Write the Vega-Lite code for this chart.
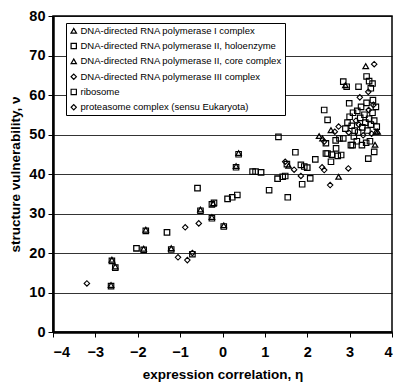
{
  "$schema": "https://vega.github.io/schema/vega-lite/v6.json",
  "width": 339,
  "height": 316,
  "autosize": "none",
  "padding": {"left": 53, "top": 16, "right": 3, "bottom": 53},
  "background": "white",
  "config": {
    "font": "Liberation Sans",
    "view": {"stroke": "black", "strokeWidth": 1.5},
    "axis": {
      "labelFont": "Liberation Sans",
      "labelFontWeight": "bold",
      "labelFontSize": 14.5,
      "labelColor": "black",
      "titleFont": "Liberation Sans",
      "titleFontWeight": "bold",
      "titleFontSize": 13.5,
      "titleColor": "black",
      "domainColor": "black",
      "domainWidth": 2.5,
      "tickColor": "black",
      "tickWidth": 1,
      "tickSize": 5
    }
  },
  "data": {
    "values": [
      {"eta": -3.2, "nu": 12.3, "complex": "proteasome complex (sensu Eukaryota)"},
      {"eta": -2.63, "nu": 11.6, "complex": "ribosome"},
      {"eta": -2.63, "nu": 11.9, "complex": "DNA-directed RNA polymerase II, core complex"},
      {"eta": -2.61, "nu": 18.0, "complex": "ribosome"},
      {"eta": -2.61, "nu": 18.3, "complex": "DNA-directed RNA polymerase I complex"},
      {"eta": -2.53, "nu": 16.3, "complex": "ribosome"},
      {"eta": -2.53, "nu": 16.6, "complex": "DNA-directed RNA polymerase II, core complex"},
      {"eta": -2.03, "nu": 21.2, "complex": "DNA-directed RNA polymerase II, holoenzyme"},
      {"eta": -1.86, "nu": 20.8, "complex": "ribosome"},
      {"eta": -1.86, "nu": 21.1, "complex": "DNA-directed RNA polymerase I complex"},
      {"eta": -1.81, "nu": 25.6, "complex": "ribosome"},
      {"eta": -1.81, "nu": 25.9, "complex": "DNA-directed RNA polymerase II, core complex"},
      {"eta": -1.31, "nu": 25.2, "complex": "DNA-directed RNA polymerase II, holoenzyme"},
      {"eta": -1.21, "nu": 20.9, "complex": "ribosome"},
      {"eta": -1.21, "nu": 21.2, "complex": "DNA-directed RNA polymerase I complex"},
      {"eta": -1.05, "nu": 18.9, "complex": "proteasome complex (sensu Eukaryota)"},
      {"eta": -0.88, "nu": 26.5, "complex": "proteasome complex (sensu Eukaryota)"},
      {"eta": -0.83, "nu": 18.2, "complex": "proteasome complex (sensu Eukaryota)"},
      {"eta": -0.71, "nu": 19.7, "complex": "ribosome"},
      {"eta": -0.71, "nu": 20.0, "complex": "DNA-directed RNA polymerase III complex"},
      {"eta": -0.56, "nu": 27.5, "complex": "proteasome complex (sensu Eukaryota)"},
      {"eta": -0.52, "nu": 30.7, "complex": "ribosome"},
      {"eta": -0.52, "nu": 31.0, "complex": "DNA-directed RNA polymerase I complex"},
      {"eta": -0.59, "nu": 36.4, "complex": "DNA-directed RNA polymerase II, holoenzyme"},
      {"eta": -0.25, "nu": 32.3, "complex": "ribosome"},
      {"eta": -0.2, "nu": 32.7, "complex": "ribosome"},
      {"eta": -0.22, "nu": 32.5, "complex": "DNA-directed RNA polymerase I complex"},
      {"eta": -0.25, "nu": 28.8, "complex": "ribosome"},
      {"eta": -0.25, "nu": 29.1, "complex": "DNA-directed RNA polymerase II, core complex"},
      {"eta": 0.03, "nu": 26.7, "complex": "ribosome"},
      {"eta": 0.03, "nu": 27.0, "complex": "DNA-directed RNA polymerase I complex"},
      {"eta": 0.12, "nu": 33.7, "complex": "DNA-directed RNA polymerase II, holoenzyme"},
      {"eta": 0.23, "nu": 34.1, "complex": "ribosome"},
      {"eta": 0.35, "nu": 34.7, "complex": "ribosome"},
      {"eta": 0.32, "nu": 41.7, "complex": "ribosome"},
      {"eta": 0.32, "nu": 42.0, "complex": "DNA-directed RNA polymerase I complex"},
      {"eta": 0.38, "nu": 45.0, "complex": "ribosome"},
      {"eta": 0.38, "nu": 45.3, "complex": "DNA-directed RNA polymerase II, core complex"},
      {"eta": 0.71, "nu": 40.6, "complex": "ribosome"},
      {"eta": 0.78, "nu": 40.6, "complex": "ribosome"},
      {"eta": 0.91, "nu": 40.4, "complex": "DNA-directed RNA polymerase II, holoenzyme"},
      {"eta": 1.1, "nu": 35.9, "complex": "ribosome"},
      {"eta": 1.32, "nu": 49.4, "complex": "ribosome"},
      {"eta": 1.3, "nu": 38.8, "complex": "DNA-directed RNA polymerase II, holoenzyme"},
      {"eta": 1.42, "nu": 39.3, "complex": "ribosome"},
      {"eta": 1.48, "nu": 39.5, "complex": "ribosome"},
      {"eta": 1.54, "nu": 34.1, "complex": "ribosome"},
      {"eta": 1.48, "nu": 43.1, "complex": "proteasome complex (sensu Eukaryota)"},
      {"eta": 1.52, "nu": 42.5, "complex": "ribosome"},
      {"eta": 1.56, "nu": 42.1, "complex": "DNA-directed RNA polymerase I complex"},
      {"eta": 1.69, "nu": 41.1, "complex": "proteasome complex (sensu Eukaryota)"},
      {"eta": 1.72, "nu": 45.5, "complex": "ribosome"},
      {"eta": 1.85, "nu": 42.3, "complex": "ribosome"},
      {"eta": 1.93, "nu": 41.9, "complex": "ribosome"},
      {"eta": 2.0, "nu": 41.6, "complex": "DNA-directed RNA polymerase II, holoenzyme"},
      {"eta": 1.85, "nu": 39.5, "complex": "proteasome complex (sensu Eukaryota)"},
      {"eta": 1.88, "nu": 37.4, "complex": "ribosome"},
      {"eta": 2.07, "nu": 38.9, "complex": "ribosome"},
      {"eta": 2.19, "nu": 43.7, "complex": "ribosome"},
      {"eta": 2.35, "nu": 41.7, "complex": "proteasome complex (sensu Eukaryota)"},
      {"eta": 2.4, "nu": 41.0, "complex": "proteasome complex (sensu Eukaryota)"},
      {"eta": 2.54, "nu": 37.2, "complex": "proteasome complex (sensu Eukaryota)"},
      {"eta": 2.74, "nu": 39.3, "complex": "DNA-directed RNA polymerase II, core complex"},
      {"eta": 2.97, "nu": 41.4, "complex": "proteasome complex (sensu Eukaryota)"},
      {"eta": 2.28, "nu": 49.6, "complex": "DNA-directed RNA polymerase I complex"},
      {"eta": 2.36, "nu": 49.0, "complex": "DNA-directed RNA polymerase II, core complex"},
      {"eta": 2.4, "nu": 48.2, "complex": "proteasome complex (sensu Eukaryota)"},
      {"eta": 2.44, "nu": 47.8, "complex": "ribosome"},
      {"eta": 2.44, "nu": 45.2, "complex": "ribosome"},
      {"eta": 2.48, "nu": 45.2, "complex": "ribosome"},
      {"eta": 2.58, "nu": 44.9, "complex": "ribosome"},
      {"eta": 2.56, "nu": 43.1, "complex": "ribosome"},
      {"eta": 2.68, "nu": 46.5, "complex": "ribosome"},
      {"eta": 2.8, "nu": 44.8, "complex": "ribosome"},
      {"eta": 2.72, "nu": 44.6, "complex": "ribosome"},
      {"eta": 2.67, "nu": 48.5, "complex": "ribosome"},
      {"eta": 2.76, "nu": 49.0, "complex": "ribosome"},
      {"eta": 2.56, "nu": 51.1, "complex": "DNA-directed RNA polymerase I complex"},
      {"eta": 2.65, "nu": 50.7, "complex": "proteasome complex (sensu Eukaryota)"},
      {"eta": 2.74, "nu": 52.0, "complex": "proteasome complex (sensu Eukaryota)"},
      {"eta": 2.4, "nu": 56.2, "complex": "ribosome"},
      {"eta": 2.48, "nu": 53.7, "complex": "ribosome"},
      {"eta": 2.85, "nu": 49.0, "complex": "ribosome"},
      {"eta": 2.9, "nu": 51.5, "complex": "ribosome"},
      {"eta": 2.95, "nu": 53.0, "complex": "ribosome"},
      {"eta": 2.98, "nu": 50.5, "complex": "DNA-directed RNA polymerase III complex"},
      {"eta": 3.0, "nu": 54.5, "complex": "ribosome"},
      {"eta": 3.03, "nu": 47.3, "complex": "ribosome"},
      {"eta": 3.05, "nu": 52.2, "complex": "ribosome"},
      {"eta": 3.07, "nu": 47.3, "complex": "ribosome"},
      {"eta": 3.08, "nu": 55.5, "complex": "ribosome"},
      {"eta": 3.1, "nu": 49.5, "complex": "ribosome"},
      {"eta": 3.12, "nu": 51.0, "complex": "ribosome"},
      {"eta": 3.15, "nu": 53.5, "complex": "proteasome complex (sensu Eukaryota)"},
      {"eta": 3.17, "nu": 48.3, "complex": "ribosome"},
      {"eta": 3.18, "nu": 56.0, "complex": "ribosome"},
      {"eta": 3.2, "nu": 50.5, "complex": "ribosome"},
      {"eta": 3.22, "nu": 52.5, "complex": "DNA-directed RNA polymerase III complex"},
      {"eta": 3.25, "nu": 54.2, "complex": "ribosome"},
      {"eta": 3.27, "nu": 57.0, "complex": "ribosome"},
      {"eta": 3.29, "nu": 47.3, "complex": "ribosome"},
      {"eta": 3.3, "nu": 51.8, "complex": "ribosome"},
      {"eta": 3.32, "nu": 49.8, "complex": "proteasome complex (sensu Eukaryota)"},
      {"eta": 3.35, "nu": 55.0, "complex": "ribosome"},
      {"eta": 3.37, "nu": 53.0, "complex": "ribosome"},
      {"eta": 3.39, "nu": 47.9, "complex": "ribosome"},
      {"eta": 3.4, "nu": 58.0, "complex": "ribosome"},
      {"eta": 3.42, "nu": 51.0, "complex": "ribosome"},
      {"eta": 3.44, "nu": 43.9, "complex": "ribosome"},
      {"eta": 3.45, "nu": 56.2, "complex": "DNA-directed RNA polymerase III complex"},
      {"eta": 3.46, "nu": 54.0, "complex": "ribosome"},
      {"eta": 3.48, "nu": 48.3, "complex": "ribosome"},
      {"eta": 3.5, "nu": 52.5, "complex": "ribosome"},
      {"eta": 3.52, "nu": 50.2, "complex": "proteasome complex (sensu Eukaryota)"},
      {"eta": 3.54, "nu": 55.5, "complex": "ribosome"},
      {"eta": 3.55, "nu": 58.7, "complex": "ribosome"},
      {"eta": 3.56, "nu": 57.5, "complex": "proteasome complex (sensu Eukaryota)"},
      {"eta": 3.58, "nu": 45.6, "complex": "ribosome"},
      {"eta": 3.58, "nu": 53.5, "complex": "ribosome"},
      {"eta": 3.6, "nu": 47.4, "complex": "DNA-directed RNA polymerase II, core complex"},
      {"eta": 3.62, "nu": 50.7, "complex": "DNA-directed RNA polymerase I complex"},
      {"eta": 3.62, "nu": 57.0, "complex": "ribosome"},
      {"eta": 3.64, "nu": 52.0, "complex": "ribosome"},
      {"eta": 3.66, "nu": 50.7, "complex": "DNA-directed RNA polymerase I complex"},
      {"eta": 2.99, "nu": 57.9, "complex": "ribosome"},
      {"eta": 2.85, "nu": 63.4, "complex": "ribosome"},
      {"eta": 2.9, "nu": 62.5, "complex": "DNA-directed RNA polymerase I complex"},
      {"eta": 2.93, "nu": 62.1, "complex": "ribosome"},
      {"eta": 3.21, "nu": 62.1, "complex": "ribosome"},
      {"eta": 3.24, "nu": 59.4, "complex": "proteasome complex (sensu Eukaryota)"},
      {"eta": 3.4, "nu": 64.7, "complex": "ribosome"},
      {"eta": 3.46, "nu": 63.5, "complex": "ribosome"},
      {"eta": 3.54, "nu": 62.9, "complex": "ribosome"},
      {"eta": 3.5, "nu": 61.7, "complex": "ribosome"},
      {"eta": 3.44, "nu": 60.8, "complex": "DNA-directed RNA polymerase III complex"},
      {"eta": 3.38, "nu": 67.3, "complex": "DNA-directed RNA polymerase I complex"},
      {"eta": 3.58, "nu": 67.8, "complex": "proteasome complex (sensu Eukaryota)"}
    ]
  },
  "mark": {"type": "point", "filled": false, "color": "black", "opacity": 1, "size": 30},
  "encoding": {
    "x": {
      "field": "eta",
      "type": "quantitative",
      "scale": {"domain": [-4, 4], "nice": false, "zero": false},
      "axis": {
        "title": "expression correlation, η",
        "values": [-4, -3, -2, -1, 0, 1, 2, 3, 4],
        "grid": false,
        "labelPadding": 8,
        "titlePadding": 9
      }
    },
    "y": {
      "field": "nu",
      "type": "quantitative",
      "scale": {"domain": [0, 80], "nice": false},
      "axis": {
        "title": "structure vulnerability, ν",
        "values": [0, 10, 20, 30, 40, 50, 60, 70, 80],
        "grid": true,
        "gridColor": "black",
        "gridWidth": 0.8,
        "gridOpacity": 1,
        "labelPadding": 3,
        "titlePadding": 6
      }
    },
    "shape": {
      "field": "complex",
      "type": "nominal",
      "scale": {
        "domain": [
          "DNA-directed RNA polymerase I complex",
          "DNA-directed RNA polymerase II, holoenzyme",
          "DNA-directed RNA polymerase II, core complex",
          "DNA-directed RNA polymerase III complex",
          "ribosome",
          "proteasome complex (sensu Eukaryota)"
        ],
        "range": ["triangle-up", "square", "triangle-up", "diamond", "square", "diamond"]
      },
      "legend": {
        "title": null,
        "orient": "none",
        "legendX": 13,
        "legendY": 7,
        "direction": "vertical",
        "padding": 3,
        "strokeColor": "black",
        "fillColor": "white",
        "labelFont": "Liberation Sans",
        "labelFontSize": 9.5,
        "labelColor": "black",
        "labelLimit": 300,
        "labelOffset": 2,
        "symbolSize": 28,
        "symbolStrokeWidth": 1.6,
        "symbolStrokeColor": "black",
        "symbolFillColor": "white",
        "clipHeight": 9.5,
        "rowPadding": 4.3
      }
    },
    "strokeWidth": {
      "field": "complex",
      "type": "nominal",
      "scale": {
        "domain": [
          "DNA-directed RNA polymerase I complex",
          "DNA-directed RNA polymerase II, holoenzyme",
          "DNA-directed RNA polymerase II, core complex",
          "DNA-directed RNA polymerase III complex",
          "ribosome",
          "proteasome complex (sensu Eukaryota)"
        ],
        "range": [1.3, 1.1, 1.3, 1.3, 2, 1.3]
      },
      "legend": null
    }
  }
}
